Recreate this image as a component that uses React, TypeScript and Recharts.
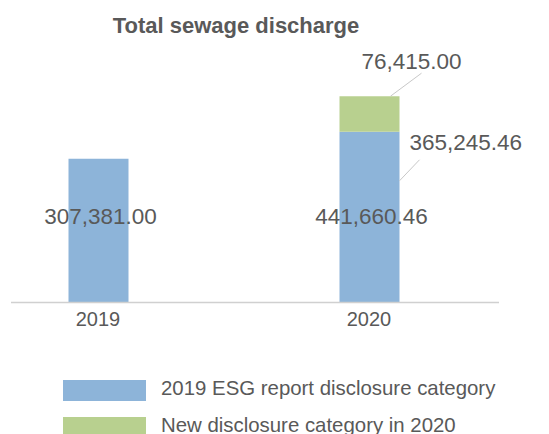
import React from 'react';
import { BarChart, Bar, XAxis, YAxis, LabelList, Legend, ReferenceLine } from 'recharts';

const years = ['2019', '2020'];
const baseValues = [307381.0, 365245.46];
const newValues = [0, 76415.0];
const totals = [307381.0, 441660.46];
const seriesNames = ['2019 ESG report disclosure category', 'New disclosure category in 2020'];
const seriesColors = ['#8db4d9', '#b8d08f'];
const title = 'Total sewage discharge';

const data = years.map((y, i) => ({ year: y, base: baseValues[i], added: newValues[i], total: totals[i] }));

const FONT = '"Liberation Sans", Arial, Helvetica, sans-serif';
const TXT = '#595959';
const LEADER = '#c8c8c8';
const SHIFT = 50;

const fmt = (v: number) =>
  v.toLocaleString('en-US', { minimumFractionDigits: 2, maximumFractionDigits: 2 });

const BaseLabel = (props: any) => {
  const { x, y, width, height, index } = props;
  const bottom = y + height;
  const cx = x + width / 2 + 2;
  const els: any[] = [
    <text key="t" x={cx} y={bottom - 78} textAnchor="middle" fill={TXT} fontSize={22.5} fontFamily={FONT}>
      {fmt(totals[index])}
    </text>,
  ];
  if (newValues[index] > 0) {
    els.push(
      <line key="l" x1={x + width} y1={y + 49} x2={x + width + 20} y2={y + 28} stroke={LEADER} strokeWidth={1} />
    );
    els.push(
      <text key="s" x={x + width + 10} y={y + 18} textAnchor="start" fill={TXT} fontSize={22.5} fontFamily={FONT}>
        {fmt(baseValues[index])}
      </text>
    );
  }
  return <g>{els}</g>;
};

const AddedLabel = (props: any) => {
  const { x, y, value } = props;
  if (!value) return null;
  return (
    <g>
      <line x1={x + 51} y1={y} x2={x + 82} y2={y - 23} stroke={LEADER} strokeWidth={1} />
      <text x={x + 22} y={y - 27} textAnchor="start" fill={TXT} fontSize={22.5} fontFamily={FONT}>
        {fmt(value)}
      </text>
    </g>
  );
};

const AxisLineShape = (props: any) => {
  const { x1, y1, x2 } = props;
  return <line x1={x1 + 48.5} y1={y1 + 0.5} x2={x2 - 5.5} y2={y1 + 0.5} stroke="#d0d0d0" strokeWidth={1.5} />;
};

const LegendContent = () => (
  <svg width={480} height={60} style={{ display: 'block', overflow: 'visible' }}>
    {seriesNames.map((n, i) => (
      <g key={n}>
        <rect x={0} y={i * 37} width={83} height={21} fill={seriesColors[i]} />
        <text x={98} y={i * 37 + 14.5} fill={TXT} fontSize={20.4} fontFamily={FONT}>
          {n}
        </text>
      </g>
    ))}
  </svg>
);

export default function App() {
  return (
    <div style={{ position: 'absolute', left: 0, top: 0, width: 549, height: 434, background: '#fff', fontFamily: FONT, overflow: 'hidden' }}>
      <div
        style={{
          position: 'absolute',
          left: 0,
          width: 472,
          top: 11,
          textAlign: 'center',
          fontSize: 22,
          fontWeight: 'bold',
          color: TXT,
          lineHeight: '30px',
        }}
      >
        {title}
      </div>
      <div style={{ position: 'absolute', left: -SHIFT, top: 0 }}>
        <BarChart width={549 + SHIFT} height={434} data={data} margin={{ top: 69, right: 44.5, bottom: 102, left: 12.5 }}>
          <XAxis
            dataKey="year"
            height={30}
            tickLine={false}
            axisLine={false}
            tick={{ fill: TXT, fontSize: 20, fontFamily: FONT }}
            tickMargin={4}
            interval={0}
          />
          <YAxis hide domain={[0, 500000]} />
          <ReferenceLine y={0} shape={AxisLineShape} ifOverflow="visible" />
          <Bar dataKey="base" stackId="a" fill={seriesColors[0]} barSize={60} isAnimationActive={false} name={seriesNames[0]}>
            <LabelList dataKey="base" content={BaseLabel} />
          </Bar>
          <Bar dataKey="added" stackId="a" fill={seriesColors[1]} barSize={60} isAnimationActive={false} name={seriesNames[1]}>
            <LabelList dataKey="added" content={AddedLabel} />
          </Bar>
          <Legend
            layout="horizontal"
            verticalAlign="middle"
            align="center"
            content={LegendContent}
            wrapperStyle={{ position: 'absolute', left: 63 + SHIFT, top: 380, width: 480, height: 60 }}
          />
        </BarChart>
      </div>
    </div>
  );
}
